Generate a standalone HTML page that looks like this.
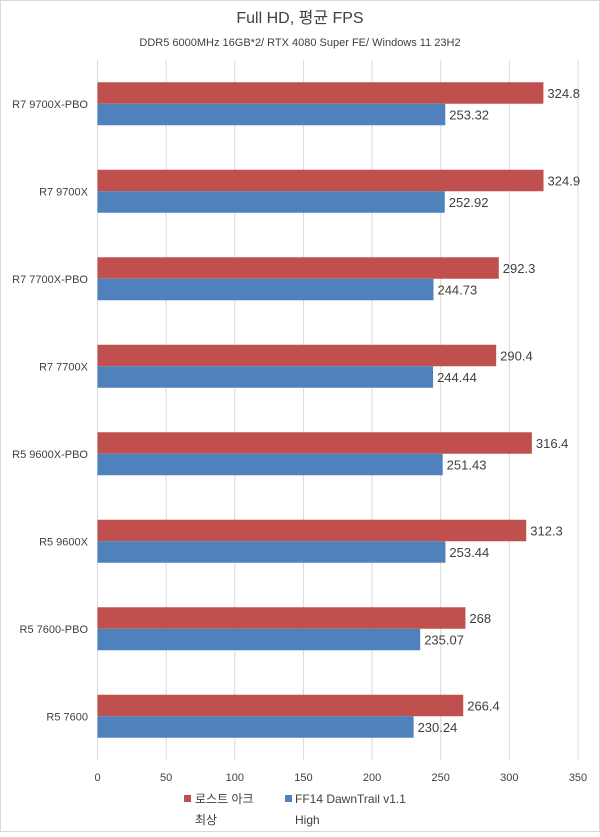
<!DOCTYPE html>
<html><head><meta charset="utf-8">
<style>
html,body{margin:0;padding:0;background:#fff;}
svg text{font-family:"Liberation Sans","Noto Sans CJK KR",sans-serif;fill:#404040;}
</style></head>
<body>
<svg id="chart" width="600" height="832" viewBox="0 0 600 832" xmlns="http://www.w3.org/2000/svg">
<rect x="0.5" y="0.5" width="599" height="831" fill="#fff" stroke="#d9d9d9"/>
<text x="300" y="23" text-anchor="middle" font-size="16">Full HD, 평균 FPS</text>
<text x="300" y="46" text-anchor="middle" font-size="11">DDR5 6000MHz 16GB*2/ RTX 4080 Super FE/ Windows 11 23H2</text>
<g id="grid"></g><g id="bars"></g><g id="labels"></g>
<g>
<rect x="184" y="795" width="7" height="7" fill="#c0504d"/>
<text x="195" y="803" font-size="12">로스트 아크</text>
<text x="195" y="824" font-size="12">최상</text>
<rect x="285" y="795" width="7" height="7" fill="#4f81bd"/>
<text x="295" y="803" font-size="12">FF14 DawnTrail v1.1</text>
<text x="295" y="824" font-size="12">High</text>
</g>
</svg>
<script>
const categories=["R7 9700X-PBO","R7 9700X","R7 7700X-PBO","R7 7700X","R5 9600X-PBO","R5 9600X","R5 7600-PBO","R5 7600"];
const lostArk=[324.8,324.9,292.3,290.4,316.4,312.3,268,266.4];
const lostArkLabels=["324.8","324.9","292.3","290.4","316.4","312.3","268","266.4"];
const ff14=[253.32,252.92,244.73,244.44,251.43,253.44,235.07,230.24];
const ff14Labels=["253.32","252.92","244.73","244.44","251.43","253.44","235.07","230.24"];
const ticks=[0,50,100,150,200,250,300,350];
const NS="http://www.w3.org/2000/svg";
const x0=97.5,x1=578,xmax=350,plotTop=60,plotBottom=760;
const xs=v=>x0+(x1-x0)*v/xmax;
const band=(plotBottom-plotTop)/categories.length;
const grid=document.getElementById('grid'),bars=document.getElementById('bars'),labels=document.getElementById('labels');
function mk(tag,attrs,parent){const e=document.createElementNS(NS,tag);for(const k in attrs)e.setAttribute(k,attrs[k]);parent.appendChild(e);return e;}
ticks.forEach((t,i)=>{
 const l=mk('line',{x1:xs(t),x2:xs(t),y1:plotTop,y2:plotBottom,stroke:'#d9d9d9','stroke-width':1},grid);
 
 
 const tx=mk('text',{x:xs(t),y:781,'text-anchor':'middle','font-size':11},grid);
 tx.textContent=String(t);
 
 
});
const bh=21.5;
categories.forEach((c,i)=>{
 const cy=plotTop+band*i+band/2;
 const r=mk('rect',{x:x0,y:cy-bh,width:xs(lostArk[i])-x0,height:bh,fill:'#c0504d'},bars);
 
 
 const b=mk('rect',{x:x0,y:cy,width:xs(ff14[i])-x0,height:bh,fill:'#4f81bd'},bars);
 
 
 const ct=mk('text',{x:88,y:cy+4,'text-anchor':'end','font-size':11},labels);
 ct.textContent=c;
 
 
 const v1=mk('text',{x:xs(lostArk[i])+4,y:cy-bh/2+5,'font-size':13},labels);
 v1.textContent=lostArkLabels[i];
 
 
 const v2=mk('text',{x:xs(ff14[i])+4,y:cy+bh/2+5,'font-size':13},labels);
 v2.textContent=ff14Labels[i];
 
 
});
</script>
</body></html>
